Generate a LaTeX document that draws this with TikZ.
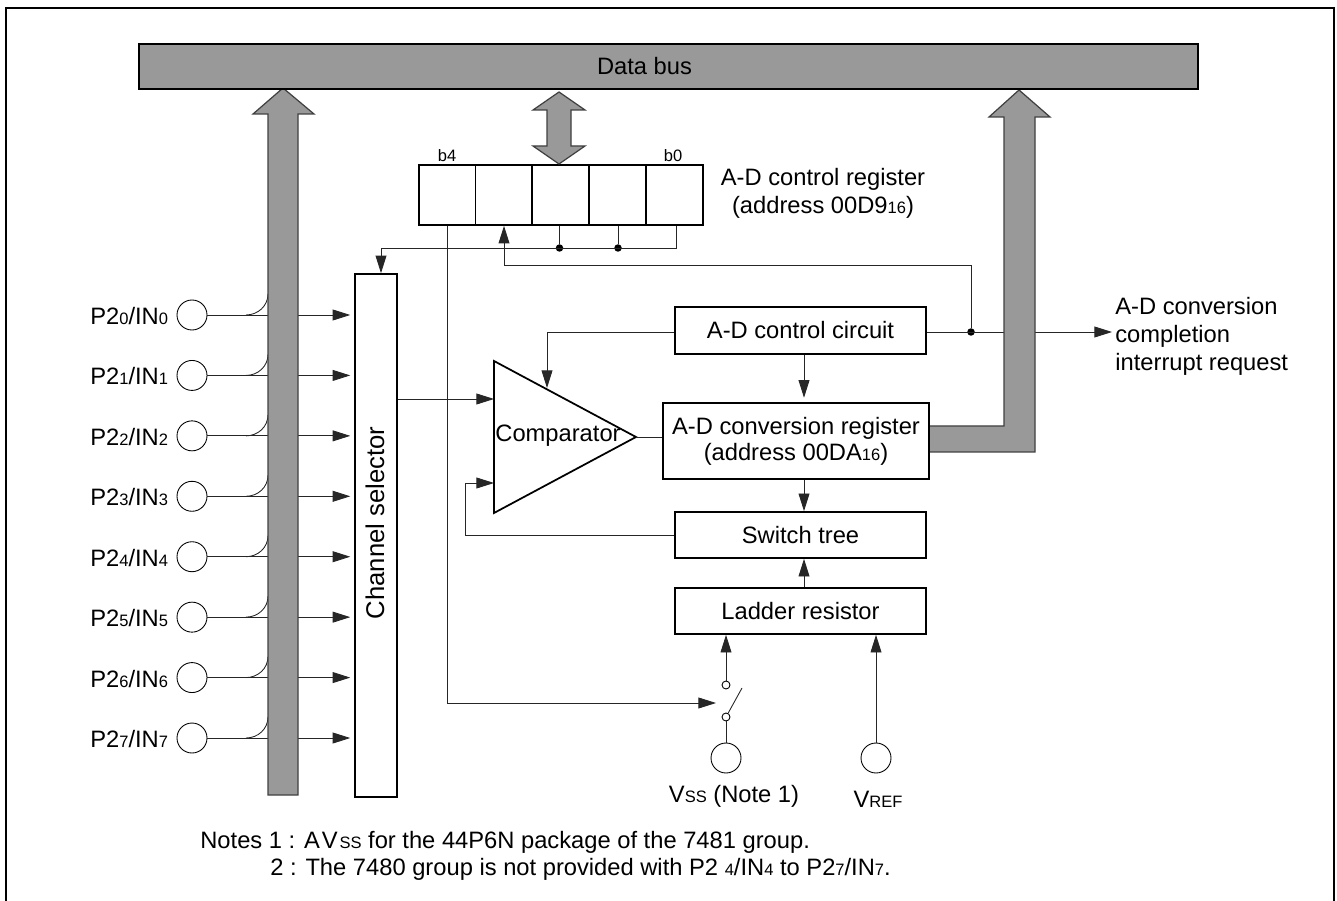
\documentclass[tikz,border=0pt]{standalone}
\usepackage{fontspec}
\setmainfont{Liberation Sans}
\usetikzlibrary{arrows.meta}
\newcommand{\lowtext}[1]{{\fontsize{9.4}{10}\selectfont #1}}
\tikzset{
    busfill/.style={draw=black!75, line width=0.7pt, fill=busgray},
    wire/.style={line width=0.5pt, black!85},
    blockbox/.style={draw, line width=1pt, fill=white, inner sep=0pt, align=center},
    regcell/.style={blockbox, minimum width=1.14cm, minimum height=1.2cm},
    padcircle/.style={draw, line width=0.5pt, circle, fill=white, inner sep=0pt, minimum size=0.6cm},
    contact/.style={draw, line width=0.5pt, circle, fill=white, inner sep=0pt, minimum size=0.16cm},
    joindot/.style={fill=black, circle, inner sep=0pt, minimum size=0.15cm},
    plainlabel/.style={inner sep=0pt, align=left}
}
\definecolor{busgray}{HTML}{999999}
\begin{document}
\begin{tikzpicture}[x=0.02cm, y=-0.02cm, >={Triangle[length=10pt,width=6.2pt]}, font=\fontsize{13.5}{16}\selectfont]
    \useasboundingbox (0,0) rectangle (1337,901);

    % 1. Outer frame, open at the bottom
    \draw[line width=1.3pt] (6,901) -- (6,8) -- (1334,8) -- (1334,901);

    % 2. Define the blocks
    \node[blockbox, minimum width=0.84cm, minimum height=10.46cm] (chansel) at (376,535.5) {};
    \node[blockbox, minimum width=5.02cm, minimum height=0.94cm] (ctrlcirc) at (800.5,330.5) {\raisebox{-1.6pt}{A-D control circuit}};
    \node[blockbox, minimum width=5.02cm, minimum height=0.92cm] (swtree) at (800.5,535) {\raisebox{-1.6pt}{Switch tree}};
    \node[blockbox, minimum width=5.02cm, minimum height=0.92cm] (ladder) at (800.5,611) {\raisebox{-1.2pt}{Ladder resistor}};

    % 3. Define coordinates for the comparator and the loose wire ends
    \coordinate (cmpa) at (494,361);
    \coordinate (cmpb) at (636,437);
    \coordinate (cmpc) at (494,513);
    \coordinate (cmpin1) at (494,399);
    \coordinate (cmpin2) at (494,483);
    \coordinate (cmpin3) at (547,388);
    \coordinate (irq) at (1112,332);
    \coordinate (swarm) at (716,703);
    \coordinate (midx) at (804,0);

    % 4. The pads at the bottom and the switch
    \node[padcircle] (vsspad) at (726,758) {};
    \node[padcircle] (vrefpad) at (876,758) {};
    \node[contact] (swtop) at (726,685) {};
    \node[contact] (swbot) at (726,717) {};
    \coordinate (swblade) at (742,688);

    % 5. Register cells
    \foreach \i/\xx in {4/447.5, 3/504, 2/560.5, 1/617.5, 0/674.5} {
        \node[regcell] (b\i) at (\xx,195) {};
    }
    \node[inner sep=0pt, font=\fontsize{9.4}{10}\selectfont, anchor=base] (b4text) at (447,162) {b4};
    \node[inner sep=0pt, font=\fontsize{9.4}{10}\selectfont, anchor=base] (b0text) at (673,162) {b0};

    % 6. Wires of the eight input pins, the bus covers them further on
    \foreach \i in {0,...,7} {
        \pgfmathsetmacro{\yy}{315+60.43*\i}
        \node[padcircle] (pin\i) at (192,\yy) {};
        \node[plainlabel, anchor=west] (pintext\i) at (90,\yy+1) {P2\lowtext{\i}/IN\lowtext{\i}};
        \draw[wire, ->, shorten >=2.2pt] (pin\i.east) -- (pin\i -| chansel.west);
        \draw[wire] (246,\yy) to[out=0, in=-90] (268,\yy-21);
    }

    % 7. Control wires
    \coordinate (loopa) at (676,248);
    \coordinate (loopb) at (381,248);
    \node[joindot] (dota) at (559.5,248) {};
    \node[joindot] (dotb) at (618,248) {};
    \draw[wire] (b2.south -| dota) -- (dota);
    \draw[wire] (b1.south -| dotb) -- (dotb);
    \draw[wire, ->] (b0.south -| loopa) -- (loopa) -- (loopb) -- (chansel.north -| loopb);
    \node[joindot] (dotirq) at (971,332) {};
    \draw[wire, ->] (dotirq) |- (b3.south |- 0,265) -- (b3.south);
    \draw[wire, ->] (ctrlcirc.east |- irq) -- (irq);
    \draw[wire, ->] (ctrlcirc.west |- irq) -| (cmpin3);
    \draw[wire, ->] (chansel.east |- cmpin1) -- (cmpin1);
    \draw[wire, ->] (swtree.west) -| (465,483) -- (cmpin2);
    \draw[wire, ->] (b4.south) |- (swarm);

    % 8. The buses
    \draw[busfill] (268,795) -- (268,114) -- (253,114) -- (283,88) -- (314,114) -- (298,114) -- (298,795) -- cycle;
    \draw[busfill] (925,426) -- (1004,426) -- (1004,117) -- (989,117) -- (1019,90) -- (1050,117) -- (1035,117) -- (1035,452) -- (925,452) -- cycle;
    \draw[busfill] (559,92) -- (585,110) -- (571,110) -- (571,146) -- (585,146) -- (559,164) -- (533,146) -- (547,146) -- (547,110) -- (533,110) -- cycle;
    \node[draw=black, line width=0.8pt, fill=busgray, inner sep=0pt, minimum width=21.18cm, minimum height=0.9cm] (databus) at (668.5,66.5) {};
    \node[plainlabel] (bustext) at (644.5,66) {Data bus};

    % 9. The register hides the bus end, the comparator comes after it
    \node[blockbox, minimum width=5.32cm, minimum height=1.52cm] (convreg) at (796,441) {A-D conversion register\\[-1.1pt](address 00DA\lowtext{16})};
    \draw[line width=1pt] (cmpa) -- (cmpb) -- (cmpc) -- cycle;
    \node[plainlabel] (cmptext) at (558,436) {Comparator};
    \node[plainlabel, rotate=90, font=\fontsize{14.6}{16}\selectfont] (chantext) at (375,523) {Channel selector};

    % 10. Wires between the blocks
    \draw[wire] (cmpb) -- (convreg.west |- cmpb);
    \draw[wire, ->, shorten >=2.5pt] (ctrlcirc.south -| midx) -- (convreg.north -| midx);
    \draw[wire, ->] (convreg.south -| midx) -- (swtree.north -| midx);
    \draw[wire, ->] (ladder.north -| midx) -- (swtree.south -| midx);
    \draw[wire, ->] (swtop.north) -- (swtop.north |- ladder.south);
    \draw[wire, ->] (vrefpad.north) -- (vrefpad.north |- ladder.south);
    \draw[wire] (vsspad.north) -- (swbot.south);
    \draw[wire] (swbot) -- (swblade);

    % 11. The other texts
    \node[inner sep=0pt, align=center] (regtext) at (823,193) {A-D control register\\(address 00D9\lowtext{16})};
    \node[plainlabel, anchor=north west] (irqtext) at (1115,297) {A-D conversion\\completion\\interrupt request};
    \node[inner sep=0pt, anchor=base] (vsstext) at (734,802) {V\lowtext{SS} (Note 1)};
    \node[inner sep=0pt, anchor=base] (vreftext) at (878,807) {V\lowtext{REF}};
    \node[inner sep=0pt, anchor=base west] (note1) at (200,848) {Notes 1 : A\kern1.2pt V\kern1pt\lowtext{SS} for the 44P6N package of the 7481 group.};
    \node[inner sep=0pt, anchor=base west] (note2) at (270,875) {2 : The 7480 group is not provided with P2 \lowtext{4}/IN\lowtext{4} to P2\lowtext{7}/IN\lowtext{7}.};
\end{tikzpicture}
\end{document}
